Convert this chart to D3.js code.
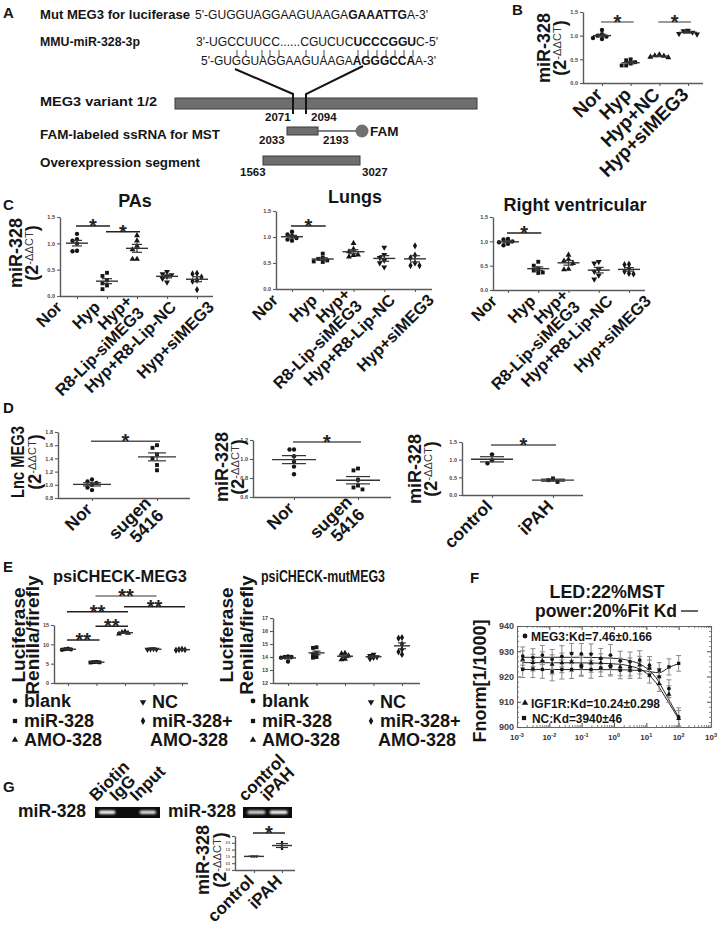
<!DOCTYPE html>
<html lang="en">
<head>
<meta charset="UTF-8">
<title>MEG3 / miR-328 figure</title>
<script src="https://cdn.jsdelivr.net/npm/d3@7/dist/d3.min.js"></script>
<style>
  body { margin: 0; background: #fff; }
  svg text { font-family: "Liberation Sans", Arial, Helvetica, sans-serif; }
</style>
</head>
<body>
<svg id="fig" width="720" height="926"></svg>
<script>
// ---------------- data ----------------
const seqMut = [["5'-GUGGUAGGAAGUAAGA", 0], ["GAAATTG", 1], ["A-3'", 0]];
const seqMiR = [["3'-UGCCUUCC......CGUCUC", 0], ["UCCCGGU", 1], ["C-5'", 0]];
const seqWt = [["5'-GUGGUAGGAAGUAAGA", 0], ["AGGGCCA", 1], ["A-3'", 0]];

const bCats = ["Nor", "Hyp", "Hyp+NC", "Hyp+siMEG3"];
const bValues = [
  [1.12, 1.03, 1.0, 0.98, 0.95, 0.93],
  [0.5, 0.48, 0.44, 0.41, 0.37, 0.37],
  [0.6, 0.58, 0.57, 0.55, 0.54],
  [1.11, 1.1, 1.07, 1.04, 1.03]
];
const bSig = [[0, 1, 1.29, "*"], [2, 3, 1.29, "*"]];

const cCats = ["Nor", "Hyp", "Hyp+\nR8-Lip-siMEG3", "Hyp+R8-Lip-NC", "Hyp+siMEG3"];
const cPAs = [
  [1.18, 1.08, 1.05, 1.0, 0.86, 0.85],
  [0.44, 0.38, 0.3, 0.2, 0.13, 0.24],
  [1.15, 1.05, 0.95, 0.88, 0.7, 0.7],
  [0.46, 0.42, 0.4, 0.37, 0.33, 0.26],
  [0.43, 0.42, 0.36, 0.3, 0.28, 0.12]
];
const cLungs = [
  [1.1, 1.05, 1.02, 0.98, 0.95, 0.93],
  [0.68, 0.6, 0.58, 0.55, 0.52, 0.53],
  [0.88, 0.77, 0.72, 0.65, 0.62, 0.66],
  [0.8, 0.66, 0.6, 0.55, 0.5, 0.42],
  [0.83, 0.65, 0.6, 0.5, 0.45, 0.45]
];
const cRV = [
  [1.05, 1.04, 1.0, 0.98, 0.95, 0.92],
  [0.58, 0.5, 0.44, 0.4, 0.36, 0.35],
  [0.72, 0.63, 0.6, 0.55, 0.43, 0.42],
  [0.58, 0.55, 0.42, 0.38, 0.3, 0.22],
  [0.53, 0.52, 0.44, 0.38, 0.34, 0.33]
];
const cPAsSig = [[0, 1, 1.33, "*"], [1, 2, 1.22, "*"]];
const cLungsSig = [[0, 1, 1.21, "*"]];
const cRVSig = [[0, 1, 1.17, "*"]];

const dRatCats = ["Nor", "sugen\n5416"];
const dMEG3 = [[1.08, 1.05, 1.03, 1.0, 0.96, 0.92], [1.6, 1.56, 1.46, 1.4, 1.3, 1.22]];
const dMiR = [[1.1, 1.1, 1.03, 0.97, 0.92, 0.84], [0.9, 0.88, 0.78, 0.72, 0.7, 0.68]];
const dHumanCats = ["control", "iPAH"];
const dHuman = [[1.15, 0.98, 0.9], [0.47, 0.42, 0.37]];
const dMEG3Sig = [[0, 1, 1.66, "*"]];
const dMiRSig = [[0, 1, 1.18, "*"]];
const dHumanSig = [[0, 1, 1.415, "*"]];

const eCats = ["blank", "miR-328", "AMO-328", "NC", "miR-328+\nAMO-328"];
const eWt = [
  [8.85, 8.75, 8.7, 8.6],
  [5.45, 5.4, 5.35, 5.3],
  [13.3, 13.1, 12.9, 12.7],
  [8.8, 8.75, 8.7, 8.65],
  [8.75, 8.65, 8.6, 8.5]
];
const eMut = [
  [14.05, 14.0, 14.0, 13.95, 13.65],
  [14.75, 14.7, 14.3, 14.2, 14.0, 13.95],
  [14.3, 14.25, 14.1, 13.85, 13.8],
  [14.2, 14.1, 14.0, 13.95, 13.85],
  [15.5, 15.45, 15.0, 14.6, 14.4, 14.2]
];
const eWtSig = [[0, 1, 11.1, "**"], [1, 2, 14.7, "**"], [0, 2, 18.4, "**"], [1, 3, 22.5, "**", "#777"], [2, 4, 19.7, "**"]];

const fConc = [0.0015, 0.0031, 0.0061, 0.0122, 0.0244, 0.0488, 0.0977, 0.195, 0.39, 0.78, 1.56, 3.13, 6.25, 12.5, 25, 50, 100];
const fMEG3 = [928.1, 927.5, 928.5, 926.8, 928.0, 929.1, 929.0, 928.9, 927.2, 928.5, 926.2, 925.8, 926.5, 924.5, 919.9, 915.2, 904.0];
const fIGF1R = [926.8, 925.5, 926.2, 924.8, 925.4, 925.8, 924.5, 925.4, 925.4, 924.5, 923.8, 923.8, 924.5, 923.2, 917.2, 913.0, 903.3];
const fNC = [922.8, 923.0, 922.8, 921.9, 922.8, 922.8, 923.8, 922.8, 923.4, 923.8, 922.5, 922.5, 922.5, 920.5, 922.5, 923.8, 925.2];
const fErrMEG3 = [3.6, 3.5, 3.8, 3.9, 4.2, 4.0, 4.1, 4.0, 3.9, 4.2, 3.8, 3.9, 3.7, 3.4, 3.2, 3.5, 3.6];
const fErrIGF1R = [3.4, 3.3, 3.6, 3.8, 3.9, 3.8, 4.0, 3.7, 3.6, 3.8, 3.5, 3.6, 3.5, 3.3, 3.1, 3.3, 3.2];
const fErrNC = [3.2, 3.4, 3.5, 3.6, 3.8, 3.6, 3.7, 3.5, 3.4, 3.6, 3.4, 3.3, 3.2, 3.1, 3.0, 3.2, 3.1];
const fFitMEG3 = [[0.0015, 927.6], [0.1, 927.6], [1, 927.2], [3, 926.3], [8, 924.2], [20, 919.5], [40, 913], [100, 903.8]];
const fFitIGF1R = [[0.0015, 925.5], [0.1, 925.4], [1, 925.0], [3, 924.2], [8, 922.2], [20, 917.5], [40, 911.5], [100, 903.2]];
const fFitNC = [[0.0015, 922.8], [1, 922.7], [8, 922.3], [25, 921.5], [50, 923.6], [100, 925.1]];
const fLegend = ["MEG3:Kd=7.46±0.166", "IGF1R:Kd=10.24±0.298", "NC:Kd=3940±46"];

const gLanes1 = ["Biotin", "IgG", "Input"];
const gBand1 = [1, 0, 0.9];
const gLanes2 = ["control", "iPAH"];
const gBand2 = [0.85, 1];
const gCats = ["control", "iPAH"];
const gValues = [[1.0, 1.0, 1.0], [2.05, 1.8, 1.55]];
const gSig = [[0, 1, 2.72, "*"]];

// ---------------- helpers ----------------
const svg = d3.select("#fig");
const INK = "#151515", AXIS = "#5a5a5a";

svg.append("defs").append("filter").attr("id", "glow")
  .attr("x", "-30%").attr("y", "-100%").attr("width", "160%").attr("height", "300%")
  .append("feGaussianBlur").attr("stdDeviation", 1.1);

function txt(g, x, y, s, o = {}) {
  const t = g.append("text").attr("x", x).attr("y", y)
    .attr("font-size", o.size || 13)
    .attr("font-weight", o.weight || "bold")
    .attr("text-anchor", o.anchor || "start")
    .attr("fill", o.fill || INK)
    .text(s);
  if (o.len) t.attr("textLength", o.len).attr("lengthAdjust", "spacingAndGlyphs");
  return t;
}

function richText(x, y, parts, size, len) {
  const t = svg.append("text").attr("x", x).attr("y", y).attr("font-size", size).attr("fill", INK);
  parts.forEach(([s, b]) => t.append("tspan").attr("font-weight", b ? "bold" : "normal").text(s));
  if (len) t.attr("textLength", len).attr("lengthAdjust", "spacingAndGlyphs");
}

const shapes = [d3.symbolCircle, d3.symbolSquare, d3.symbolTriangle, "down", d3.symbolDiamond];
function marker(g, x, y, i, size) {
  const s = shapes[i % shapes.length];
  const type = s === "down" ? d3.symbolTriangle : s;
  g.append("path")
    .attr("d", d3.symbol(type, size)())
    .attr("transform", `translate(${x},${y})` + (s === "down" ? " rotate(180)" : ""))
    .attr("fill", INK);
}

// spread points of one group sideways where they would overlap
function swarm(vals, y, step) {
  const placed = [];
  return vals.map(v => {
    const py = y(v);
    for (const s of [0, -1, 1, -2, 2, -3, 3]) {
      const px = s * step;
      if (!placed.some(p => Math.abs(p[0] - px) < step * 0.9 && Math.abs(p[1] - py) < step * 0.9)) {
        placed.push([px, py]);
        return px;
      }
    }
    return 0;
  });
}

function tiltLabels(g, xs, labels, yTop, size) {
  labels.forEach((lab, i) => {
    const lines = lab.split("\n");
    const t = g.append("text")
      .attr("transform", `translate(${xs[i] - 3},${yTop}) rotate(-45)`)
      .attr("text-anchor", "end").attr("font-size", size)
      .attr("font-weight", "bold").attr("fill", INK);
    lines.forEach((ln, k) => t.append("tspan").attr("x", 0)
      .attr("dy", k === 0 ? (lines.length > 1 ? "-0.15em" : "0.35em") : "1em").text(ln));
  });
}

function ctLabel(x1, x2, cy, title, size, len) {
  const a = svg.append("text").attr("transform", `translate(${x1},${cy}) rotate(-90)`)
    .attr("text-anchor", "middle").attr("font-size", size).attr("font-weight", "bold")
    .attr("fill", INK).text(title);
  if (len) a.attr("textLength", len).attr("lengthAdjust", "spacingAndGlyphs");
  const t = svg.append("text").attr("transform", `translate(${x2},${cy}) rotate(-90)`)
    .attr("text-anchor", "middle").attr("font-size", size).attr("font-weight", "bold").attr("fill", INK);
  t.append("tspan").text("(2");
  t.append("tspan").attr("font-size", size * 0.62).attr("font-weight", "normal")
    .attr("fill", "#333").attr("dy", -size * 0.28).text("-\u0394\u0394CT");
  t.append("tspan").attr("dy", size * 0.28).text(")");
}

function styleAxis(a, size) {
  a.select(".domain").attr("stroke", AXIS).attr("stroke-width", 1.4);
  a.selectAll(".tick line").attr("stroke", AXIS).attr("stroke-width", 1.1);
  a.selectAll(".tick text").attr("font-size", size).attr("font-weight", "bold").attr("fill", "#444");
}

function dotPlot(c) {
  const g = svg.append("g");
  const y = d3.scaleLinear().domain(c.domain).range([c.bottom, c.top]);
  const x = d3.scalePoint().domain(d3.range(c.values.length)).range(c.catRange);

  const ya = g.append("g").attr("transform", `translate(${c.left},0)`)
    .call(d3.axisLeft(y).tickValues(c.ticks).tickSize(3).tickSizeOuter(0).tickPadding(2)
      .tickFormat(d3.format(c.fmt || ".1f")));
  styleAxis(ya, c.tickFont || 5.5);

  const xa = g.append("g").attr("transform", `translate(0,${c.bottom})`)
    .call(d3.axisBottom(x).tickSize(3).tickSizeOuter(0).tickFormat(""));
  xa.select(".domain").attr("d", `M${c.left},0.5H${c.right}`);
  styleAxis(xa, 5);

  c.values.forEach((vals, i) => {
    const cx = x(i);
    const m = d3.mean(vals);
    const se = vals.length > 1 ? d3.deviation(vals) / Math.sqrt(vals.length) : 0;
    const offs = swarm(vals, y, c.step || 4.5);
    vals.forEach((v, k) => marker(g, cx + offs[k], y(v), i, c.msize || 15));
    g.append("line").attr("x1", cx - c.mw).attr("x2", cx + c.mw)
      .attr("y1", y(m)).attr("y2", y(m)).attr("stroke", "#333").attr("stroke-width", 1.4);
    g.append("line").attr("x1", cx).attr("x2", cx).attr("y1", y(m - se)).attr("y2", y(m + se))
      .attr("stroke", "#333").attr("stroke-width", 1.2);
    [m - se, m + se].forEach(v => g.append("line").attr("x1", cx - c.sw).attr("x2", cx + c.sw)
      .attr("y1", y(v)).attr("y2", y(v)).attr("stroke", "#333").attr("stroke-width", 1.2));
  });

  (c.sig || []).forEach(([a, b, v, lab, col]) => {
    const yy = y(v);
    g.append("line").attr("x1", x(a) - 1).attr("x2", x(b) + 3).attr("y1", yy).attr("y2", yy)
      .attr("stroke", col || c.sigColor || "#222").attr("stroke-width", 1.5);
    txt(g, (x(a) + x(b)) / 2 + 1, yy + 7, lab, { size: 20, anchor: "middle", fill: "#222" });
  });

  if (c.labels) {
    const lx = d3.scalePoint().domain(d3.range(c.labels.length)).range(c.labelRange || c.catRange);
    tiltLabels(g, c.labels.map((d, i) => lx(i)), c.labels, c.bottom + 8, c.labelSize || 17);
  }
  return { g, x, y };
}

function letter(x, y, s) { txt(svg, x, y, s, { size: 15 }); }

// ---------------- panel A ----------------
letter(3, 18, "A");
txt(svg, 40, 19, "Mut MEG3 for luciferase", { len: 150 });
richText(195, 19, seqMut, 12, 233);
txt(svg, 40, 46, "MMU-miR-328-3p", { len: 100 });
richText(196, 46, seqMiR, 12, 242);
[237, 246, 262, 270, 279, 306, 324, 358, 368, 377, 386, 395, 404, 413].forEach(px =>
  svg.append("line").attr("x1", px).attr("x2", px).attr("y1", 50).attr("y2", 57)
    .attr("stroke", "#333").attr("stroke-width", 0.9));
richText(201, 65, seqWt, 12, 235);

const link = d3.line();
svg.append("path").attr("d", link([[235, 69], [293, 94], [293, 114]]))
  .attr("fill", "none").attr("stroke", INK).attr("stroke-width", 2);
svg.append("path").attr("d", link([[363, 66], [306, 94], [306, 114]]))
  .attr("fill", "none").attr("stroke", INK).attr("stroke-width", 2);

txt(svg, 40, 106, "MEG3 variant 1/2", { len: 117 });
svg.append("rect").attr("x", 175).attr("y", 98).attr("width", 302).attr("height", 11)
  .attr("fill", "#6e6e6e").attr("stroke", "#3a3a3a").attr("stroke-width", 1);
svg.append("line").attr("x1", 293).attr("x2", 293).attr("y1", 94).attr("y2", 114).attr("stroke", INK).attr("stroke-width", 2);
svg.append("line").attr("x1", 306).attr("x2", 306).attr("y1", 94).attr("y2", 114).attr("stroke", INK).attr("stroke-width", 2);
txt(svg, 265, 121, "2071", { size: 11.5 });
txt(svg, 311, 121, "2094", { size: 11.5 });

txt(svg, 40, 139, "FAM-labeled ssRNA for MST", { len: 180 });
svg.append("rect").attr("x", 287).attr("y", 127).attr("width", 31).attr("height", 8)
  .attr("fill", "#6e6e6e").attr("stroke", "#3a3a3a");
svg.append("line").attr("x1", 318).attr("x2", 357).attr("y1", 131).attr("y2", 131)
  .attr("stroke", "#555").attr("stroke-width", 1.5);
svg.append("circle").attr("cx", 362).attr("cy", 131).attr("r", 6.5).attr("fill", "#707070");
txt(svg, 370, 136, "FAM", { size: 13.5 });
txt(svg, 259, 144, "2033", { size: 11.5 });
txt(svg, 323, 144, "2193", { size: 11.5 });

txt(svg, 40, 167, "Overexpression segment", { len: 160 });
svg.append("rect").attr("x", 263).attr("y", 156).attr("width", 97).attr("height", 9)
  .attr("fill", "#6e6e6e").attr("stroke", "#3a3a3a");
txt(svg, 240, 176, "1563", { size: 11.5 });
txt(svg, 362, 176, "3027", { size: 11.5 });

// ---------------- panel B ----------------
letter(512, 15, "B");
dotPlot({ left: 583, right: 703, top: 12, bottom: 83, domain: [0, 1.5], ticks: [0, 0.5, 1, 1.5],
  catRange: [602, 688], values: bValues, sig: bSig, sigColor: "#777", mw: 9, sw: 4,
  labels: bCats, labelSize: 19 });
ctLabel(550, 566, 48, "miR-328", 18);

// ---------------- panel C ----------------
letter(3, 210, "C");
txt(svg, 135, 207, "PAs", { size: 18, anchor: "middle" });
dotPlot({ left: 60, right: 213, top: 217, bottom: 296, domain: [0, 1.5], ticks: [0, 0.5, 1, 1.5],
  catRange: [77, 197], values: cPAs, sig: cPAsSig, mw: 11, sw: 5,
  labels: cCats, labelRange: [62, 214], labelSize: 16.5 });
ctLabel(22, 38, 253, "miR-328", 18);

txt(svg, 355, 203, "Lungs", { size: 18, anchor: "middle" });
dotPlot({ left: 276, right: 432, top: 211, bottom: 289, domain: [0, 1.5], ticks: [0, 0.5, 1, 1.5],
  catRange: [292, 415], values: cLungs, sig: cLungsSig, mw: 11, sw: 5,
  labels: cCats, labelRange: [278, 434], labelSize: 16.5 });

txt(svg, 575, 211, "Right ventricular", { size: 18, anchor: "middle" });
dotPlot({ left: 493, right: 645, top: 217, bottom: 290, domain: [0, 1.5], ticks: [0, 0.5, 1, 1.5],
  catRange: [508, 629], values: cRV, sig: cRVSig, mw: 11, sw: 5,
  labels: cCats, labelRange: [497, 651], labelSize: 16.5 });

// ---------------- panel D ----------------
letter(3, 413, "D");
dotPlot({ left: 58, right: 190, top: 432, bottom: 498, domain: [0.8, 1.8],
  ticks: [0.8, 1.0, 1.2, 1.4, 1.6, 1.8], catRange: [92, 157], values: dMEG3, sig: dMEG3Sig,
  sigColor: "#555", mw: 19, sw: 9, labels: dRatCats, labelSize: 17.5 });
ctLabel(24, 41, 462, "Lnc MEG3", 18, 72);

dotPlot({ left: 253, right: 391, top: 440, bottom: 497, domain: [0.6, 1.2],
  ticks: [0.6, 0.8, 1.0, 1.2], catRange: [294, 358], values: dMiR, sig: dMiRSig,
  sigColor: "#555", mw: 22, sw: 12, labels: dRatCats, labelSize: 17.5 });
ctLabel(228, 244, 467, "miR-328", 18);

dotPlot({ left: 462, right: 583, top: 442, bottom: 495, domain: [0, 1.5],
  ticks: [0, 0.5, 1, 1.5], catRange: [492, 553], values: dHuman, sig: dHumanSig,
  sigColor: "#555", mw: 21, sw: 12, labels: dHumanCats, labelSize: 17.5 });
ctLabel(421, 437, 469, "miR-328", 18);

// ---------------- panel E ----------------
function ctLabelPair(x1, x2, cy) {
  svg.append("text").attr("transform", `translate(${x1},${cy}) rotate(-90)`)
    .attr("text-anchor", "middle").attr("font-size", 19).attr("font-weight", "bold")
    .attr("fill", INK).text("Luciferase");
  svg.append("text").attr("transform", `translate(${x2},${cy}) rotate(-90)`)
    .attr("text-anchor", "middle").attr("font-size", 19).attr("font-weight", "bold")
    .attr("fill", INK).text("Renilla/firefly");
}

function eLegend(dx1, dx2) {
  const pos = [[15 + dx1, 707], [15 + dx1, 727], [15 + dx1, 746], [143 + dx2, 708], [143 + dx2, 727]];
  eCats.forEach((c, i) => {
    const [mx, my] = pos[i];
    marker(svg, mx, my - 6, i, 18);
    const t = svg.append("text").attr("y", my).attr("font-size", 18)
      .attr("font-weight", "bold").attr("fill", INK);
    c.split("\n").forEach((ln, k) => t.append("tspan").attr("x", mx + (k ? 7 : 9))
      .attr("dy", k ? 19 : 0).text(ln));
  });
}

letter(3, 572, "E");
txt(svg, 120, 582, "psiCHECK-MEG3", { size: 17, anchor: "middle", len: 134 });
dotPlot({ left: 54, right: 188, top: 625, bottom: 683, domain: [0, 15], ticks: [0, 5, 10, 15],
  fmt: "d", catRange: [68, 182], values: eWt, sig: eWtSig, mw: 8, sw: 4, step: 3 });
ctLabelPair(25, 39, 635);

txt(svg, 323, 582, "psiCHECK-mutMEG3", { size: 17, anchor: "middle", len: 124 });
dotPlot({ left: 273, right: 420, top: 618, bottom: 683, domain: [12, 17],
  ticks: [12, 13, 14, 15, 16, 17], fmt: "d", catRange: [288, 402], values: eMut, mw: 8, sw: 4, step: 3.5 });
ctLabelPair(233, 253, 635);

eLegend(0, 0);
eLegend(238, 228);

// ---------------- panel F ----------------
letter(470, 583, "F");
txt(svg, 607, 598, "LED:22%MST", { size: 18, anchor: "middle", len: 115 });
txt(svg, 535, 617, "power:20%Fit Kd", { size: 18, len: 142 });
svg.append("line").attr("x1", 681).attr("x2", 698).attr("y1", 611).attr("y2", 611)
  .attr("stroke", INK).attr("stroke-width", 1.3);

const fx = d3.scaleLog().domain([1e-3, 1e3]).range([517, 711]);
const fy = d3.scaleLinear().domain([900, 940]).range([727, 626]);
const fg = svg.append("g");
const decades = [1e-3, 1e-2, 1e-1, 1, 1e1, 1e2, 1e3];
const minorX = decades.slice(0, -1).flatMap(d => [2, 3, 4, 5, 6, 7, 8, 9].map(k => d * k));
const majorY = [900, 910, 920, 930, 940];
const minorY = [902, 904, 906, 908, 912, 914, 916, 918, 922, 924, 926, 928, 932, 934, 936, 938];

function boxAxis(make, tr, major, minor, labels) {
  const a = fg.append("g").attr("transform", tr)
    .call(make().tickValues(major).tickSizeInner(-4).tickSizeOuter(0).tickPadding(3)
      .tickFormat(labels ? d3.format("d") : () => ""));
  styleAxis(a, 9);
  a.select(".domain").attr("stroke", "#666").attr("stroke-width", 1);
  const b = fg.append("g").attr("transform", tr)
    .call(make().tickValues(minor).tickSizeInner(-2).tickSizeOuter(0).tickFormat(() => ""));
  b.select(".domain").remove();
  b.selectAll(".tick line").attr("stroke", "#666").attr("stroke-width", 0.8);
}
boxAxis(() => d3.axisBottom(fx), "translate(0,727)", decades, minorX, false);
boxAxis(() => d3.axisTop(fx), "translate(0,626)", decades, minorX, false);
boxAxis(() => d3.axisLeft(fy), "translate(517,0)", majorY, minorY, true);
boxAxis(() => d3.axisRight(fy), "translate(711,0)", majorY, minorY, false);

decades.forEach(d => {
  const t = fg.append("text").attr("x", fx(d)).attr("y", 740).attr("text-anchor", "middle")
    .attr("font-size", 8).attr("font-weight", "bold").attr("fill", "#333");
  t.append("tspan").text("10");
  t.append("tspan").attr("font-size", 5.5).attr("dy", -3).text(String(Math.round(Math.log10(d))));
});

const fitLine = d3.line().x(d => fx(d[0])).y(d => fy(d[1])).curve(d3.curveMonotoneX);
[fFitMEG3, fFitIGF1R, fFitNC].forEach(fit => fg.append("path").attr("d", fitLine(fit))
  .attr("fill", "none").attr("stroke", "#222").attr("stroke-width", 1));

[[fMEG3, fErrMEG3], [fIGF1R, fErrIGF1R], [fNC, fErrNC]].forEach(([vals, errs]) => {
  vals.forEach((v, i) => {
    const px = fx(fConc[i]);
    fg.append("line").attr("x1", px).attr("x2", px).attr("y1", fy(v - errs[i])).attr("y2", fy(v + errs[i]))
      .attr("stroke", "#8a8a8a").attr("stroke-width", 1);
    [v - errs[i], v + errs[i]].forEach(e => fg.append("line").attr("x1", px - 2.5).attr("x2", px + 2.5)
      .attr("y1", fy(e)).attr("y2", fy(e)).attr("stroke", "#8a8a8a").attr("stroke-width", 1));
  });
});
[[fMEG3, 0], [fIGF1R, 2], [fNC, 1]].forEach(([vals, shp]) =>
  vals.forEach((v, i) => marker(fg, fx(fConc[i]), fy(v), shp, 11)));

marker(fg, 525, 636, 0, 18);
txt(fg, 531, 641, fLegend[0], { size: 13, len: 121 });
marker(fg, 525, 703, 2, 18);
txt(fg, 531, 708, fLegend[1], { size: 13, len: 129 });
marker(fg, 524, 718, 1, 18);
txt(fg, 532, 723, fLegend[2], { size: 13, len: 90 });

svg.append("text").attr("transform", "translate(486,681) rotate(-90)")
  .attr("text-anchor", "middle").attr("font-size", 18).attr("font-weight", "bold")
  .attr("fill", INK).text("Fnorm[1/1000]");

// ---------------- panel G ----------------
letter(3, 792, "G");
txt(svg, 18, 817, "miR-328", { size: 18, len: 68 });
txt(svg, 168, 817, "miR-328", { size: 18, len: 68 });

function gel(x0, x1, lanes, bands) {
  const xb = d3.scaleBand().domain(lanes).range([x0, x1]).padding(0.2);
  svg.append("rect").attr("x", x0).attr("y", 807).attr("width", x1 - x0).attr("height", 11).attr("fill", "#0c0c0c");
  lanes.forEach((l, i) => {
    if (bands[i] > 0) {
      svg.append("rect").attr("x", xb(l)).attr("y", 810.5).attr("width", xb.bandwidth()).attr("height", 3.5)
        .attr("rx", 1.5).attr("fill", "#fff").attr("opacity", bands[i]).attr("filter", "url(#glow)");
    }
    svg.append("text")
      .attr("transform", `translate(${xb(l) + xb.bandwidth() / 2 - 11},802) rotate(-45)`)
      .attr("font-size", 17).attr("font-weight", "bold").attr("fill", INK).text(l);
  });
}
gel(95, 160, gLanes1, gBand1);
gel(243, 292, gLanes2, gBand2);

dotPlot({ left: 235, right: 295, top: 836, bottom: 870, domain: [0, 2.5],
  ticks: [0, 0.5, 1, 1.5, 2, 2.5], tickFont: 3, catRange: [254, 282], values: gValues, sig: gSig,
  mw: 10, sw: 6, msize: 5, step: 2.5, labels: gCats, labelSize: 17 });
ctLabel(209, 226, 860, "miR-328", 18);
</script>
</body>
</html>
